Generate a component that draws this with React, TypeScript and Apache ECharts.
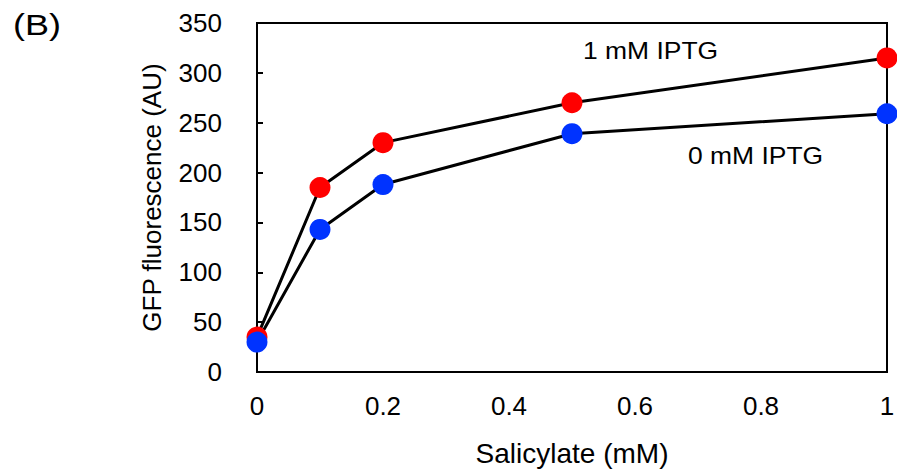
import React, { useEffect, useRef } from "react";
import * as echarts from "echarts";

const salicylate = [0, 0.1, 0.2, 0.5, 1];
const iptg1 = [35, 185, 230, 270, 315];
const iptg0 = [30, 143, 188, 239, 259];
const seriesNames = ["1 mM IPTG", "0 mM IPTG"];
const yTicks = { min: 0, max: 350, interval: 50 };
const xTicks = { min: 0, max: 1, interval: 0.2 };

const FONT = "Liberation Sans, Arial, sans-serif";

export default function App() {
  const ref = useRef<HTMLDivElement>(null);
  useEffect(() => {
    if (!ref.current) return;
    const chart = echarts.init(ref.current, null, { renderer: "svg" });
    const mk = (name: string, ys: number[], color: string) => ({
      name,
      type: "line",
      data: salicylate.map((x, i) => [x, ys[i]]),
      symbol: "circle",
      symbolSize: 21,
      showSymbol: true,
      lineStyle: { color: "#000", width: 3 },
      itemStyle: { color, borderWidth: 0 },
      z: 2,
    });
    chart.setOption({
      animation: false,
      backgroundColor: "#fff",
      grid: {
        left: 257,
        top: 23,
        right: 10,
        bottom: 102,
        containLabel: false,
        outerBoundsMode: "none",
        show: true,
        borderColor: "#000",
        borderWidth: 2,
        backgroundColor: "transparent",
      },
      xAxis: {
        type: "value",
        min: xTicks.min,
        max: xTicks.max,
        interval: xTicks.interval,
        axisLine: { show: true, lineStyle: { color: "#000", width: 2 } },
        axisTick: { show: false },
        splitLine: { show: false },
        axisLabel: { color: "#000", fontSize: 26, fontFamily: FONT, margin: 21 },
        name: "Salicylate (mM)",
        nameLocation: "middle",
        nameGap: 67,
        nameTextStyle: { color: "#000", fontSize: 28, fontFamily: FONT },
      },
      yAxis: {
        type: "value",
        min: yTicks.min,
        max: yTicks.max,
        interval: yTicks.interval,
        axisLine: { show: true, lineStyle: { color: "#000", width: 2 } },
        axisTick: { show: true, inside: true, length: 6, lineStyle: { color: "#000", width: 2 } },
        splitLine: { show: false },
        axisLabel: { color: "#000", fontSize: 26, fontFamily: FONT, margin: 35 },
        name: "GFP fluorescence (AU)",
        nameLocation: "middle",
        nameGap: 92,
        nameTextStyle: { color: "#000", fontSize: 26, fontFamily: FONT },
      },
      series: [mk(seriesNames[0], iptg1, "#ff0000"), mk(seriesNames[1], iptg0, "#0033ff")],
      graphic: [
        { type: "text", x: 13, y: 10, scaleX: 1.2, style: { text: "(B)", fontSize: 30, fontFamily: FONT, fill: "#000" } },
        { type: "text", x: 583, y: 40, scaleX: 1.15, style: { text: seriesNames[0], fontSize: 23, fontFamily: FONT, fill: "#000" } },
        { type: "text", x: 688, y: 145, scaleX: 1.15, style: { text: seriesNames[1], fontSize: 23, fontFamily: FONT, fill: "#000" } },
      ],
    });
    return () => chart.dispose();
  }, []);
  return <div ref={ref} style={{ width: 897, height: 474, position: "absolute", left: 0, top: 0 }} />;
}
